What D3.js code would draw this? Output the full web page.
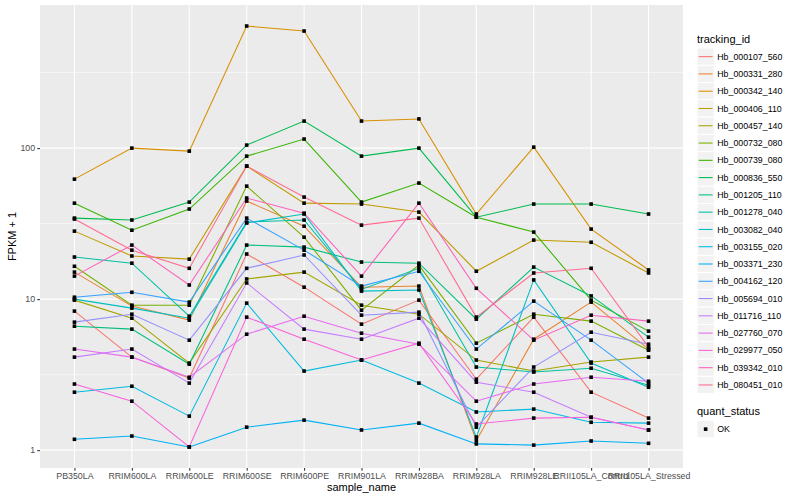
<!DOCTYPE html>
<html>
<head>
<meta charset="utf-8">
<script src="https://cdn.jsdelivr.net/npm/d3@7"></script>
<style>
  body { margin: 0; background: #fff; }
  text { font-family: "Liberation Sans", Arial, Helvetica, sans-serif; }
</style>
</head>
<body>
<div id="chart"></div>
<script>
// sample names on the x axis
const samples = ["PB350LA", "RRIM600LA", "RRIM600LE", "RRIM600SE", "RRIM600PE", "RRIM901LA",
  "RRIM928BA", "RRIM928LA", "RRIM928LE", "RRII105LA_Control", "RRII105LA_Stressed"];

const trackingIds = ["Hb_000107_560", "Hb_000331_280", "Hb_000342_140", "Hb_000406_110",
  "Hb_000457_140", "Hb_000732_080", "Hb_000739_080", "Hb_000836_550", "Hb_001205_110",
  "Hb_001278_040", "Hb_003082_040", "Hb_003155_020", "Hb_003371_230", "Hb_004162_120",
  "Hb_005694_010", "Hb_011716_110", "Hb_027760_070", "Hb_029977_050", "Hb_039342_010",
  "Hb_080451_010"];

// FPKM + 1, one array per gene, in sample order
const hb000107_560 = [8.33, 4.13, 3.00, 19.9, 12.0, 6.83, 9.85, 2.95, 7.60, 2.42, 1.63];
const hb000331_280 = [15.1, 8.99, 7.26, 44.6, 30.4, 12.0, 12.2, 1.16, 5.43, 9.55, 4.67];
const hb000342_140 = [62.3, 100, 95.5, 643, 596, 151, 156, 36.6, 101.5, 29.1, 15.6];
const hb000406_110 = [28.2, 19.3, 18.4, 76.0, 43.2, 42.6, 37.7, 15.3, 24.6, 23.8, 14.9];
const hb000457_140 = [9.85, 7.48, 3.77, 13.6, 15.1, 9.12, 7.95, 3.95, 3.34, 3.83, 4.13];
const hb000732_080 = [16.5, 9.12, 9.12, 56.0, 25.7, 8.45, 16.8, 5.11, 7.95, 7.15, 4.59];
const hb000739_080 = [43.2, 28.6, 39.5, 88.5, 114.8, 43.9, 58.7, 34.9, 27.8, 9.85, 6.14];
const hb000836_550 = [34.4, 33.4, 43.9, 104.7, 151, 88.5, 100, 34.9, 42.6, 42.6, 36.6];
const hb001205_110 = [6.62, 6.33, 3.71, 22.8, 22.1, 17.6, 17.3, 7.37, 16.3, 10.5, 5.60];
const hb001278_040 = [19.0, 17.3, 7.71, 32.4, 33.4, 11.6, 16.0, 3.55, 3.29, 3.49, 2.69];
const hb003082_040 = [10.0, 8.72, 7.48, 31.9, 36.6, 11.3, 11.5, 1.22, 13.4, 3.77, 2.61];
const hb003155_020 = [2.42, 2.65, 1.68, 9.41, 3.34, 3.95, 2.78, 1.79, 1.87, 1.53, 1.51];
const hb003371_230 = [1.18, 1.24, 1.05, 1.42, 1.58, 1.36, 1.51, 1.10, 1.08, 1.15, 1.11];
const hb004162_120 = [10.3, 11.1, 9.55, 34.4, 21.1, 12.2, 15.3, 4.67, 9.70, 5.35, 2.78];
const hb005694_010 = [7.04, 7.95, 5.35, 16.0, 19.6, 7.83, 8.20, 1.42, 3.55, 6.04, 5.03];
const hb011716_110 = [4.13, 4.67, 2.78, 12.8, 6.33, 5.43, 7.48, 2.82, 2.42, 1.65, 1.36];
const hb027760_070 = [4.67, 4.13, 3.04, 5.86, 7.71, 5.95, 5.03, 2.11, 2.74, 3.04, 2.86];
const hb029977_050 = [2.74, 2.11, 1.05, 7.60, 5.43, 3.95, 5.11, 1.49, 1.63, 1.65, 1.36];
const hb039342_010 = [14.2, 22.8, 12.4, 46.7, 37.1, 14.2, 43.2, 11.8, 5.35, 7.83, 7.15];
const hb080451_010 = [33.9, 21.1, 16.0, 76.0, 47.4, 30.9, 34.4, 7.60, 14.9, 16.0, 4.81];

const yTicks = [1, 10, 100];
const statusLevels = ["OK"];

const seriesValues = [hb000107_560, hb000331_280, hb000342_140, hb000406_110, hb000457_140,
  hb000732_080, hb000739_080, hb000836_550, hb001205_110, hb001278_040, hb003082_040,
  hb003155_020, hb003371_230, hb004162_120, hb005694_010, hb011716_110, hb027760_070,
  hb029977_050, hb039342_010, hb080451_010];

// ggplot hue palette for 20 levels
const palette = ["#F8766D", "#EA8331", "#D89000", "#C09B00", "#A3A500", "#7CAE00", "#39B600",
  "#00BB4E", "#00BF7D", "#00C1A3", "#00BFC4", "#00BAE0", "#00B0F6", "#35A2FF", "#9590FF",
  "#C77CFF", "#E76BF3", "#FA62DB", "#FF62BC", "#FF6C90"];

const series = trackingIds.map((id, i) => ({id: id, values: seriesValues[i]}));

const width = 800, height = 500;
const panel = {left: 40, right: 683, top: 5, bottom: 468};

const svg = d3.select("#chart").append("svg")
    .attr("width", width)
    .attr("height", height);

svg.append("rect").attr("width", width).attr("height", height).attr("fill", "#fff");

const x = d3.scalePoint()
    .domain(samples)
    .range([panel.left, panel.right])
    .padding(0.6);

// log scale with 5% expansion like ggplot
const all = seriesValues.flat();
const lmin = Math.log10(d3.min(all)), lmax = Math.log10(d3.max(all));
const pad = (lmax - lmin) * 0.05;
const y = d3.scaleLog()
    .domain([Math.pow(10, lmin - pad), Math.pow(10, lmax + pad)])
    .range([panel.bottom, panel.top]);

const color = d3.scaleOrdinal().domain(trackingIds).range(palette);

svg.append("rect")
    .attr("x", panel.left).attr("y", panel.top)
    .attr("width", panel.right - panel.left)
    .attr("height", panel.bottom - panel.top)
    .attr("fill", "#EBEBEB");

const grid = svg.append("g");
const minor = [0.5, 1.5, 2.5].map(e => Math.pow(10, e));
grid.selectAll(".minor").data(minor).join("line")
    .attr("x1", panel.left).attr("x2", panel.right)
    .attr("y1", d => y(d)).attr("y2", d => y(d))
    .attr("stroke", "#fff").attr("stroke-width", 0.53);
grid.selectAll(".major").data(yTicks).join("line")
    .attr("x1", panel.left).attr("x2", panel.right)
    .attr("y1", d => y(d)).attr("y2", d => y(d))
    .attr("stroke", "#fff").attr("stroke-width", 1.07);
grid.selectAll(".vmajor").data(samples).join("line")
    .attr("x1", d => x(d)).attr("x2", d => x(d))
    .attr("y1", panel.top).attr("y2", panel.bottom)
    .attr("stroke", "#fff").attr("stroke-width", 1.07);

const line = d3.line()
    .x((d, i) => x(samples[i]))
    .y(d => y(d));

svg.append("g").selectAll("path")
    .data(series)
    .join("path")
        .attr("d", d => line(d.values))
        .attr("fill", "none")
        .attr("stroke", d => color(d.id))
        .attr("stroke-width", 1.07);

const pts = series.flatMap(s => s.values.map((v, i) => ({sample: samples[i], v: v})));
svg.append("g").selectAll("rect")
    .data(pts)
    .join("rect")
        .attr("x", d => x(d.sample) - 1.8)
        .attr("y", d => y(d.v) - 1.8)
        .attr("width", 3.6).attr("height", 3.6)
        .attr("fill", "#000");

// axes
const yAxis = svg.append("g")
    .attr("transform", `translate(${panel.left},0)`)
    .call(d3.axisLeft(y).tickValues(yTicks).tickFormat(d3.format("d")).tickSize(2.75).tickPadding(2.2));
const xAxis = svg.append("g")
    .attr("transform", `translate(0,${panel.bottom})`)
    .call(d3.axisBottom(x).tickSize(2.75).tickPadding(2.2));
[xAxis, yAxis].forEach(a => {
  a.select(".domain").remove();
  a.selectAll(".tick line").attr("stroke", "#333333").attr("stroke-width", 1.07);
  a.selectAll(".tick text").attr("fill", "#4D4D4D")
      .style("font-size", "8.8px")
      .style("font-family", "'Liberation Sans', Arial, sans-serif");
});

svg.append("text")
    .attr("x", (panel.left + panel.right) / 2).attr("y", 491)
    .attr("text-anchor", "middle")
    .style("font-size", "11px")
    .text("sample_name");

svg.append("text")
    .attr("transform", `translate(16,${(panel.top + panel.bottom) / 2}) rotate(-90)`)
    .attr("text-anchor", "middle")
    .style("font-size", "11px")
    .text("FPKM + 1");

// legend: tracking_id
const lx = 697, keySize = 17.28, ly0 = 48;
svg.append("text").attr("x", lx).attr("y", 43)
    .style("font-size", "11px").text("tracking_id");

const keys = svg.append("g").selectAll("g")
    .data(trackingIds)
    .join("g")
        .attr("transform", (d, i) => `translate(${lx},${ly0 + i * keySize})`);
keys.append("rect")
    .attr("width", keySize).attr("height", keySize)
    .attr("fill", "#F2F2F2").attr("stroke", "#fff").attr("stroke-width", 1);
keys.append("line")
    .attr("x1", 1.7).attr("x2", keySize - 1.7)
    .attr("y1", keySize / 2).attr("y2", keySize / 2)
    .attr("stroke", d => color(d)).attr("stroke-width", 1.07);
keys.append("text")
    .attr("x", keySize + 3).attr("y", keySize / 2 + 3.1)
    .style("font-size", "8.8px")
    .text(d => d);

// legend: quant_status
svg.append("text").attr("x", lx).attr("y", 415)
    .style("font-size", "11px").text("quant_status");
const skeys = svg.append("g").selectAll("g")
    .data(statusLevels)
    .join("g")
        .attr("transform", (d, i) => `translate(${lx},${420.5 + i * keySize})`);
skeys.append("rect")
    .attr("width", keySize).attr("height", keySize)
    .attr("fill", "#F2F2F2").attr("stroke", "#fff");
skeys.append("rect")
    .attr("x", keySize / 2 - 1.8).attr("y", keySize / 2 - 1.8)
    .attr("width", 3.6).attr("height", 3.6).attr("fill", "#000");
skeys.append("text")
    .attr("x", keySize + 3).attr("y", keySize / 2 + 3.1)
    .style("font-size", "8.8px")
    .text(d => d);
</script>
</body>
</html>
